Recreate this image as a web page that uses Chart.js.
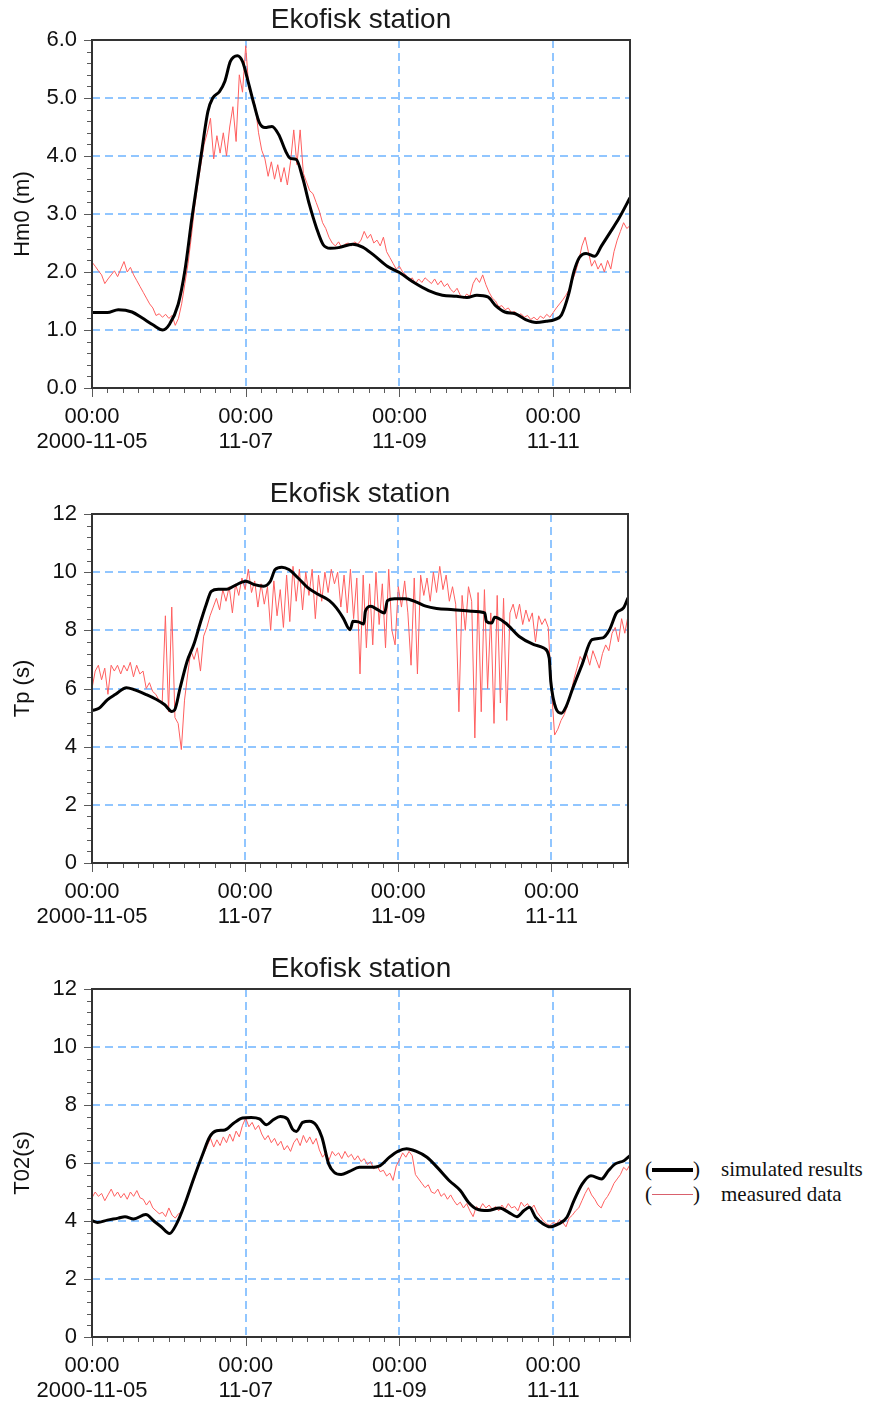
<!DOCTYPE html>
<html>
<head>
<meta charset="utf-8">
<title>Ekofisk station</title>
<script src="https://cdn.jsdelivr.net/npm/chart.js@4.4.1/dist/chart.umd.min.js"></script>
<style>
  html, body { margin: 0; padding: 0; background: #fff; }
  body { width: 876px; height: 1402px; position: relative; overflow: hidden; }
  canvas.panel { position: absolute; left: 0; }
  .legend { position: absolute; left: 645px; top: 1157px; font-family: "Liberation Serif", "Times New Roman", serif; font-size: 21px; color: #111; }
  .legend .row { position: relative; height: 25px; line-height: 25px; width: 230px; }
  .legend .row span { position: absolute; top: 0; }
  .legend .swatch { left: 7px; width: 41px; }
  .legend .txt { left: 76px; white-space: nowrap; }
</style>
</head>
<body>
<canvas id="hm0" class="panel" width="640" height="470" style="top:0px"></canvas>
<canvas id="tp" class="panel" width="640" height="470" style="top:474px"></canvas>
<canvas id="t02" class="panel" width="640" height="470" style="top:949px"></canvas>

<div class="legend">
  <div class="row"><span style="left:0">(</span><span class="swatch" style="top:11px;height:0;border-top:4px solid #000"></span><span style="left:48px">)</span><span class="txt">simulated results</span></div>
  <div class="row"><span style="left:0">(</span><span class="swatch" style="top:12px;height:0;border-top:1.5px solid #d9606c"></span><span style="left:48px">)</span><span class="txt">measured data</span></div>
</div>

<script>
// time axis in hours from 2000-11-05 00:00
const dayTickHours = [0, 48, 96, 144];
const dayTickLabels = [['00:00', '2000-11-05'], ['00:00', '11-07'], ['00:00', '11-09'], ['00:00', '11-11']];
const measuredStepHours = 1;

// Hm0 (m)
const hm0SimHours = [0, 4.8, 8.2, 12.5, 15.6, 19, 22.1, 24.2, 26.9, 29, 31.2, 34.1, 36.2, 37.7, 39.8, 41.5, 43.2, 45.4, 47, 49,
  50.6, 52.3, 54, 56.2, 58.3, 60.5, 61.9, 63.8, 65.8, 67.9, 70.1, 72.2, 74.4, 77, 81.4, 84.5, 87.8, 92.2, 96, 100.8,
  105.1, 109.4, 113.8, 117.1, 120.2, 123.6, 126.2, 128.9, 132.2, 135.4, 138.7, 141.8, 144.5, 146.6, 148.8, 150.5, 152.2, 154.3, 157, 159.1,
  162, 164.6, 168];
const hm0SimValues = [1.30, 1.30, 1.35, 1.31, 1.21, 1.09, 1.00, 1.10, 1.44, 2.02, 2.93, 4.02, 4.77, 5.00, 5.11, 5.29, 5.63, 5.73, 5.63, 5.23,
  4.89, 4.57, 4.49, 4.51, 4.37, 4.08, 3.96, 3.94, 3.62, 3.16, 2.76, 2.47, 2.41, 2.42, 2.48, 2.43, 2.30, 2.10, 1.99, 1.81,
  1.68, 1.60, 1.58, 1.56, 1.60, 1.57, 1.41, 1.31, 1.28, 1.18, 1.13, 1.15, 1.18, 1.26, 1.61, 2.01, 2.25, 2.32, 2.27, 2.45,
  2.70, 2.93, 3.28];
const hm0MeasValues = [
  2.17, 2.10, 2.02, 1.95, 1.80, 1.88, 1.95, 2.02, 1.92, 2.05, 2.18, 2.00, 2.08, 1.95, 1.85, 1.75, 1.65, 1.55, 1.45, 1.38, 1.25, 1.28, 1.22, 1.27,
  1.20, 1.25, 1.08, 1.20, 1.45, 1.80, 2.15, 2.60, 3.10, 3.50, 3.85, 4.20, 4.40, 4.65, 3.95, 4.35, 4.05, 4.40, 4.00, 4.50, 4.85, 4.25, 5.40, 5.10,
  5.90, 5.15, 5.05, 4.85, 4.40, 4.10, 3.95, 3.65, 3.90, 3.60, 3.85, 3.55, 3.80, 3.50, 3.90, 4.45, 3.85, 4.45, 3.70, 3.55, 3.40, 3.35, 3.20, 3.05,
  2.85, 2.75, 2.60, 2.50, 2.45, 2.52, 2.42, 2.48, 2.50, 2.45, 2.52, 2.48, 2.55, 2.70, 2.58, 2.65, 2.50, 2.55, 2.45, 2.60, 2.35, 2.25, 2.15, 2.05,
  2.10, 2.00, 1.95, 1.85, 1.90, 1.80, 1.88, 1.82, 1.90, 1.85, 1.80, 1.88, 1.78, 1.85, 1.75, 1.80, 1.70, 1.65, 1.72, 1.60, 1.55, 1.62, 1.58, 1.80,
  1.90, 1.82, 1.95, 1.78, 1.65, 1.55, 1.50, 1.40, 1.42, 1.35, 1.38, 1.30, 1.32, 1.25, 1.28, 1.22, 1.25, 1.18, 1.22, 1.17, 1.24, 1.20, 1.27, 1.22,
  1.30, 1.38, 1.45, 1.52, 1.60, 1.70, 1.85, 2.00, 2.20, 2.45, 2.60, 2.35, 2.10, 2.20, 2.05, 2.15, 2.00, 2.20, 2.05, 2.35, 2.55, 2.70, 2.85, 2.75,
  2.80];

// Tp (s)
const tpSimHours = [0, 2.2, 4.8, 7.4, 10.8, 13.4, 16.8, 19.9, 22.8, 25, 25.9, 27.6, 29.8, 31.9, 34.1, 35.8, 37.4, 39.6, 42.2, 44.9,
  48.2, 50.9, 53.8, 55.9, 57.4, 59.5, 61.7, 64.6, 67.7, 71, 74.4, 76.6, 78.7, 80.9, 81.8, 83.5, 85.2, 85.7, 87.4, 89.5,
  91.7, 92.6, 94.8, 98.2, 101.5, 104.6, 108, 113.3, 118.8, 123.1, 123.6, 125.3, 126.2, 129.6, 133.9, 138.5, 141.6, 143.3, 143.8, 145.4,
  147.1, 148.6, 150.7, 153.6, 156.7, 160.1, 162.2, 164.4, 166.6, 168];
const tpSimValues = [5.24, 5.32, 5.61, 5.80, 6.03, 5.95, 5.80, 5.64, 5.44, 5.21, 5.26, 6.01, 6.93, 7.51, 8.31, 8.89, 9.34, 9.41, 9.41, 9.55,
  9.69, 9.57, 9.52, 9.69, 10.09, 10.17, 10.09, 9.80, 9.46, 9.23, 9.02, 8.77, 8.43, 8.02, 8.31, 8.29, 8.22, 8.66, 8.83, 8.71,
  8.60, 9.02, 9.09, 9.09, 8.98, 8.83, 8.75, 8.71, 8.66, 8.60, 8.31, 8.25, 8.45, 8.25, 7.79, 7.51, 7.39, 7.05, 6.24, 5.32,
  5.15, 5.38, 6.01, 6.82, 7.68, 7.74, 8.02, 8.60, 8.77, 9.12];
const tpMeasValues = [
  6.0, 6.6, 6.8, 6.3, 6.7, 5.8, 6.8, 6.6, 6.8, 6.5, 6.8, 6.6, 6.9, 6.4, 6.8, 6.5, 6.6, 6.0, 6.2, 5.9, 5.8, 5.6, 5.5, 8.5,
  5.2, 8.8, 5.0, 4.8, 3.9, 5.6, 6.5, 7.3, 7.0, 7.4, 6.6, 7.8, 8.1, 8.5, 8.8, 9.1, 8.7, 9.4, 9.0, 9.5, 8.6, 9.6, 9.2, 9.8,
  9.4, 10.1, 9.3, 9.7, 8.8, 9.6, 8.9, 9.5, 8.0, 9.7, 8.5, 9.4, 8.1, 9.9, 8.3, 10.2, 9.0, 10.1, 8.7, 10.0, 9.2, 10.1, 8.4, 9.9,
  9.0, 10.0, 9.3, 10.1, 9.6, 10.0, 8.8, 9.9, 8.6, 10.1, 8.4, 9.8, 6.5, 9.9, 7.4, 9.6, 7.5, 10.0, 8.2, 9.6, 7.4, 10.1, 8.0, 7.5,
  9.5, 8.8, 9.7, 8.6, 6.8, 9.8, 6.5, 9.9, 9.2, 9.8, 9.0, 10.0, 9.3, 10.2, 9.4, 9.9, 9.0, 9.5, 8.9, 5.2, 9.2, 8.0, 9.5, 9.0,
  4.3, 9.3, 5.2, 9.4, 6.0, 8.6, 4.8, 9.2, 5.5, 9.1, 4.9, 8.6, 8.9, 8.4, 8.9, 8.2, 8.7, 8.3, 8.6, 7.6, 8.5, 8.2, 8.4, 8.1,
  6.0, 4.4, 4.6, 4.9, 5.1, 5.4, 5.8, 6.3, 6.7, 7.1, 6.9, 7.2, 6.8, 7.3, 7.0, 6.7, 7.2, 7.5, 7.3, 7.9, 8.1, 7.6, 8.4, 7.9,
  8.5];

// T02 (s)
const t02SimHours = [0, 1.7, 4.8, 8.2, 10.3, 13, 16.8, 19.4, 21.6, 24.2, 26.4, 29, 31.9, 34.6, 36.7, 38.9, 41.5, 44.2, 47, 49.7,
  52.3, 54.5, 56.6, 58.8, 61, 62.6, 63.8, 65.8, 67.9, 70.1, 71.8, 73.9, 75.6, 77.8, 80.4, 83.5, 86.9, 90, 92.9, 95.5,
  98.2, 101.3, 104.6, 107.8, 111.6, 115, 117.6, 120.2, 123.6, 127.2, 130.1, 132.7, 134.9, 136.6, 138.5, 140.9, 143, 145.7, 148.3, 150.5,
  153.1, 155.8, 159.1, 161.3, 163.4, 166.1, 168];
const t02SimValues = [4.01, 3.95, 4.03, 4.10, 4.15, 4.07, 4.22, 3.99, 3.80, 3.57, 3.90, 4.59, 5.51, 6.31, 6.89, 7.11, 7.14, 7.37, 7.55, 7.57,
  7.52, 7.32, 7.49, 7.60, 7.52, 7.17, 7.09, 7.40, 7.44, 7.29, 6.89, 5.97, 5.68, 5.60, 5.71, 5.85, 5.85, 5.91, 6.20, 6.40,
  6.49, 6.40, 6.20, 5.85, 5.39, 5.05, 4.64, 4.41, 4.36, 4.45, 4.30, 4.15, 4.36, 4.47, 4.13, 3.90, 3.80, 3.90, 4.13, 4.70,
  5.28, 5.56, 5.45, 5.74, 5.97, 6.08, 6.25];
const t02MeasValues = [
  4.80, 5.00, 4.85, 4.95, 4.70, 4.90, 5.10, 4.85, 5.00, 4.80, 4.95, 4.75, 5.00, 4.85, 5.05, 4.80, 4.75, 4.55, 4.70, 4.45, 4.35, 4.25, 4.30, 4.15,
  4.45, 4.20, 4.10, 4.25, 4.30, 4.55, 4.85, 5.20, 5.45, 5.80, 6.10, 6.35, 6.60, 6.85, 6.55, 6.80, 6.60, 6.90, 6.70, 7.00, 6.75, 7.10, 6.90, 7.30,
  7.55, 7.25, 7.40, 7.15, 7.30, 7.00, 6.80, 6.95, 6.70, 6.85, 6.60, 6.75, 6.45, 6.60, 6.40, 6.70, 6.85, 6.60, 6.95, 6.70, 6.90, 6.65, 6.85, 6.45,
  6.20, 6.35, 6.10, 6.40, 6.25, 6.35, 6.15, 6.40, 6.20, 6.30, 6.10, 6.25, 6.05, 6.15, 5.95, 6.05, 5.80, 5.90, 5.70, 5.75, 5.55, 5.65, 5.40, 5.90,
  6.10, 6.35, 6.20, 6.40, 6.25, 5.60, 5.45, 5.30, 5.15, 5.25, 5.00, 4.95, 5.10, 4.85, 4.95, 4.75, 4.90, 4.70, 4.55, 4.65, 4.45, 4.60, 4.35, 4.15,
  4.50, 4.40, 4.60, 4.45, 4.55, 4.40, 4.50, 4.35, 4.55, 4.40, 4.60, 4.45, 4.50, 4.35, 4.65, 4.50, 4.60, 4.40, 4.55, 4.30, 4.15, 4.00, 3.90, 3.85,
  3.95, 3.90, 4.05, 3.95, 3.80, 4.10, 4.20, 4.35, 4.45, 4.70, 4.95, 5.15, 4.90, 4.75, 4.55, 4.45, 4.70, 4.85, 5.05, 5.30, 5.45, 5.60, 5.85, 5.75,
  5.95];

const tickFont = { family: '"Liberation Sans", Arial, sans-serif', size: 22 };
const gridBlue = 'rgb(145,198,255)';

function pairs(hours, values) {
  return values.map((v, i) => ({ x: hours[i], y: v }));
}
function measured(values) {
  return values.map((v, i) => ({ x: i * measuredStepHours, y: v }));
}

// tick marks (major + minor) and the box round the plot
const framePlugin = {
  id: 'frame',
  afterDraw(chart, args, opts) {
    const { ctx, chartArea: a } = chart;
    const x = chart.scales.x, y = chart.scales.y;
    ctx.save();
    ctx.lineWidth = 1;
    ctx.strokeStyle = '#5a5a5a';
    ctx.beginPath();
    const nx = Math.round(x.max / opts.xMinor);
    for (let i = 0; i <= nx; i++) {
      const v = i * opts.xMinor;
      const px = Math.round(x.getPixelForValue(v)) + 0.5;
      const major = dayTickHours.some(t => Math.abs(t - v) < 1e-6);
      ctx.moveTo(px, a.bottom);
      ctx.lineTo(px, a.bottom + (major ? 9 : 5));
    }
    const ny = Math.round(y.max / opts.yMinor);
    for (let j = 0; j <= ny; j++) {
      const v = j * opts.yMinor;
      const py = Math.round(y.getPixelForValue(v)) + 0.5;
      const r = v / opts.yStep;
      const major = Math.abs(r - Math.round(r)) < 1e-6;
      ctx.moveTo(a.left, py);
      ctx.lineTo(a.left - (major ? 8 : 5), py);
    }
    ctx.stroke();
    ctx.lineWidth = 2;
    ctx.strokeStyle = '#333';
    ctx.strokeRect(a.left, a.top, a.right - a.left, a.bottom - a.top);
    ctx.restore();
  }
};

function makePanel(id, cfg) {
  return new Chart(document.getElementById(id), {
    type: 'line',
    data: {
      datasets: [
        {
          label: 'simulated results',
          data: pairs(cfg.simHours, cfg.simValues),
          borderColor: '#000',
          borderWidth: 3,
          pointRadius: 0,
          cubicInterpolationMode: 'monotone',
          order: 0
        },
        {
          label: 'measured data',
          data: measured(cfg.measValues),
          borderColor: 'rgb(255,95,95)',
          borderWidth: 1,
          pointRadius: 0,
          tension: 0,
          order: 1
        }
      ]
    },
    options: {
      responsive: false,
      animation: false,
      devicePixelRatio: 1,
      layout: { padding: { top: 3.2, left: 0, right: 640 - cfg.right, bottom: 470 - 70 - cfg.bottom } },
      plugins: {
        legend: { display: false },
        tooltip: { enabled: false },
        title: {
          display: true,
          text: 'Ekofisk station',
          fullSize: false,
          color: '#1a1a1a',
          font: { family: '"Liberation Sans", Arial, sans-serif', size: 28, weight: 'normal', lineHeight: 1.2 },
          padding: { top: 0, bottom: 3.2 }
        },
        frame: { xMinor: 4.8, yMinor: cfg.yMinor, yStep: cfg.yStep }
      },
      scales: {
        x: {
          type: 'linear',
          min: 0,
          max: 168,
          afterBuildTicks: s => { s.ticks = dayTickHours.map(v => ({ value: v })); },
          afterFit: s => { s.height = 70; s.paddingLeft = 0; s.paddingRight = 0; },
          ticks: {
            autoSkip: false,
            maxRotation: 0,
            padding: 16.5,
            color: '#111',
            font: Object.assign({ lineHeight: 1.14 }, tickFont),
            callback: v => {
              const i = dayTickHours.indexOf(v);
              return i >= 0 ? dayTickLabels[i] : '';
            }
          },
          grid: {
            drawTicks: false,
            lineWidth: 2,
            color: c => (c.tick && c.tick.value > 0 ? gridBlue : 'rgba(0,0,0,0)')
          },
          border: { display: false, dash: [8, 5] }
        },
        y: {
          min: 0,
          max: cfg.yMax,
          afterFit: s => { s.width = 92; s.paddingTop = 0; s.paddingBottom = 0; },
          ticks: {
            stepSize: cfg.yStep,
            padding: 15,
            color: '#111',
            font: tickFont,
            callback: v => (cfg.decimals ? v.toFixed(1) : String(v))
          },
          title: {
            display: true,
            text: cfg.yTitle,
            color: '#111',
            font: { family: '"Liberation Sans", Arial, sans-serif', size: 22, lineHeight: 1.2 },
            padding: { top: 10, bottom: 0 }
          },
          grid: {
            drawTicks: false,
            lineWidth: 2,
            color: c => (c.tick && c.tick.value > 0 && c.tick.value < cfg.yMax ? gridBlue : 'rgba(0,0,0,0)')
          },
          border: { display: false, dash: [8, 5] }
        }
      }
    },
    plugins: [framePlugin]
  });
}

makePanel('hm0', {
  simHours: hm0SimHours, simValues: hm0SimValues, measValues: hm0MeasValues,
  yTitle: 'Hm0 (m)', yMax: 6, yStep: 1, yMinor: 0.2, decimals: true, right: 630, bottom: 388
});
makePanel('tp', {
  simHours: tpSimHours, simValues: tpSimValues, measValues: tpMeasValues,
  yTitle: 'Tp (s)', yMax: 12, yStep: 2, yMinor: 0.4, decimals: false, right: 628, bottom: 389
});
makePanel('t02', {
  simHours: t02SimHours, simValues: t02SimValues, measValues: t02MeasValues,
  yTitle: 'T02(s)', yMax: 12, yStep: 2, yMinor: 0.4, decimals: false, right: 630, bottom: 388
});
</script>
</body>
</html>
